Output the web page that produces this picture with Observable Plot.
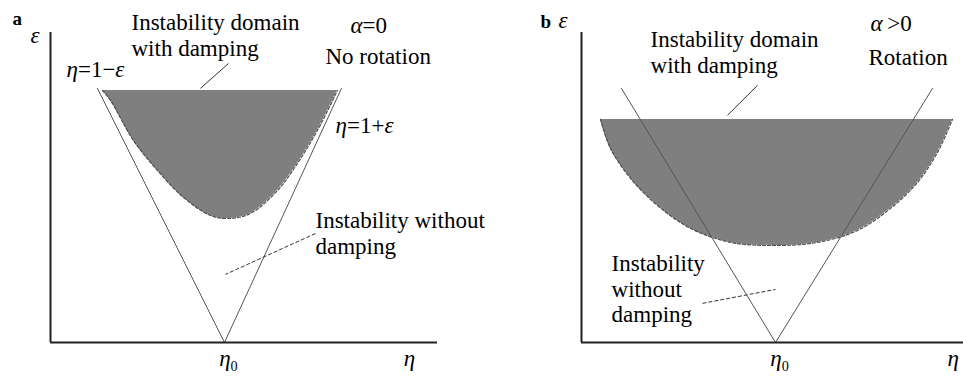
<!DOCTYPE html>
<html><head><meta charset="utf-8">
<script src="https://cdn.jsdelivr.net/npm/d3@7"></script>
<script src="https://cdn.jsdelivr.net/npm/@observablehq/plot@0.6"></script>
<style>
body{margin:0;background:#fff}
#fig{position:relative;width:963px;height:376px;overflow:hidden;background:#fff}
#fig svg{position:absolute;top:0;overflow:visible}
#fig svg text{font-family:"Liberation Serif","Times New Roman",serif !important}
</style></head><body><div id="fig"></div>
<script>
// ---------- shared ----------
const epsDomain = [0, 1.22];
const eta0 = 1;

// ---------- panel a (alpha = 0, no rotation) ----------
const aEtaDomain = [-0.426, 2.746];
const aVeeEta = [-0.041, 1, 1.959];
const aVeeEps = [1.0, 0, 1.0];
const aBowlEta = [0.0, 0.066, 0.254, 0.451, 0.664, 0.885, 1.033, 1.213, 1.434, 1.598, 1.762, 1.926];
const aBowlEps = [0.992, 0.953, 0.795, 0.677, 0.571, 0.500, 0.488, 0.508, 0.598, 0.705, 0.835, 0.992];
const aBowlTop = 0.992;
const aLeaderEta1 = [1.033, 1.746];
const aLeaderEps1 = [1.098, 0.429];
const aLeaderEta2 = [0.803, 1.008];
const aLeaderEps2 = [1.0, 0.268];
const aLeaderDash = [false, true];
const aLabelText = ["ε", "Instability domain", "with damping", "α=0", "No rotation", "η=1−ε", "η=1+ε", "Instability without", "damping", "η"];
const aLabelEta = [-0.590, 0.238, 0.238, 2.033, 1.828, -0.295, 1.910, 1.746, 1.746, 2.470];
const aLabelEps = [1.177, 1.228, 1.126, 1.220, 1.098, 1.043, 0.823, 0.449, 0.350, -0.094];

// ---------- panel b (alpha > 0, rotation) ----------
const bEtaDomain = [-0.252, 2.213];
const bVeeEta = [0.006, 1, 2.013];
const bVeeEps = [1.0, 0, 1.0];
const bBowlEta = [-0.129, -0.065, 0.065, 0.239, 0.452, 0.710, 0.987, 1.271, 1.529, 1.742, 1.916, 2.045, 2.142];
const bBowlEps = [0.878, 0.764, 0.646, 0.539, 0.449, 0.394, 0.382, 0.394, 0.441, 0.528, 0.630, 0.748, 0.878];
const bBowlTop = 0.878;
const bLeaderEta1 = [0.884, 0.529];
const bLeaderEps1 = [1.012, 0.154];
const bLeaderEta2 = [0.690, 1.0];
const bLeaderEps2 = [0.894, 0.209];
const bLeaderDash = [false, true];
const bLabelText = ["ε", "Instability domain", "with damping", "α\u2009>0", "Rotation", "Instability", "without", "damping", "η"];
const bLabelEta = [-0.400, 0.194, 0.194, 1.613, 1.600, -0.058, -0.058, -0.058, 2.110];
const bLabelEps = [1.236, 1.161, 1.059, 1.224, 1.094, 0.283, 0.181, 0.079, -0.094];

const serif = "'Liberation Serif', 'Times New Roman', serif";
const FS = 23;
const zip = (xs, ys) => xs.map((x, i) => ({eta: x, eps: ys[i]}));

function panel(o) {
  const bowl = zip(o.bowlEta, o.bowlEps);
  const vee = zip(o.veeEta, o.veeEps);
  const leaders = o.l1eta.map((e, i) => ({x1: e, y1: o.l1eps[i], x2: o.l2eta[i], y2: o.l2eps[i], dash: o.ldash[i]}));
  const labels = o.text.map((t, i) => ({t, eta: o.lEta[i], eps: o.lEps[i]}));
  return Plot.plot({
    width: o.width, height: 376,
    marginLeft: o.marginLeft, marginRight: o.marginRight, marginTop: 32, marginBottom: 34,
    x: {domain: o.etaDomain, axis: null},
    y: {domain: epsDomain, axis: null},
    style: {fontFamily: serif, fontSize: FS + "px", color: "#000", background: "transparent", overflow: "visible"},
    marks: [
      Plot.areaY(bowl, {x: "eta", y1: "eps", y2: o.bowlTop, fill: "#7f7f7f", curve: "catmull-rom"}),
      Plot.line(bowl, {x: "eta", y: "eps", stroke: "#4d4d4d", strokeWidth: 1.2, strokeDasharray: "3,2", curve: "catmull-rom"}),
      Plot.line(vee, {x: "eta", y: "eps", stroke: "#555", strokeWidth: 1}),
      Plot.ruleY([0], {x1: o.etaDomain[0], x2: o.etaDomain[1], stroke: "#222", strokeWidth: 2}),
      Plot.ruleX([o.etaDomain[0]], {y1: 0, y2: epsDomain[1], stroke: "#222", strokeWidth: 2}),
      Plot.axisX({ticks: [eta0], tickSize: 0, tickPadding: 7, tickFormat: () => "η₀", fontSize: FS, dx: 4, fill: "#000"}),
      Plot.link(leaders.filter(d => !d.dash), {x1: "x1", y1: "y1", x2: "x2", y2: "y2", stroke: "#333", strokeWidth: 1}),
      Plot.link(leaders.filter(d => d.dash), {x1: "x1", y1: "y1", x2: "x2", y2: "y2", stroke: "#333", strokeWidth: 1, strokeDasharray: "4,2"}),
      Plot.text(labels, {x: "eta", y: "eps", text: "t", textAnchor: "start", lineAnchor: "bottom", fontSize: FS, fill: "#000"}),
      Plot.text([o.tag], {x: o.tagEta, y: o.tagEps, text: d => d, textAnchor: "start", lineAnchor: "bottom", fontSize: 19, fontWeight: "bold", fill: "#000"})
    ]
  });
}

function richify(svg) {
  svg.querySelectorAll("text").forEach(t => {
    const s = t.textContent;
    if (!/[αεη₀]/.test(s)) return;
    t.textContent = "";
    const ns = "http://www.w3.org/2000/svg";
    let buf = "", italic = null;
    const flush = () => {
      if (!buf) return;
      const sp = document.createElementNS(ns, "tspan");
      if (italic) sp.setAttribute("font-style", "italic");
      sp.textContent = buf;
      t.appendChild(sp);
      buf = "";
    };
    for (const ch of s) {
      if (ch === "₀") {
        flush();
        const sp = document.createElementNS(ns, "tspan");
        sp.setAttribute("font-size", "0.62em");
        sp.setAttribute("dy", "0.35em");
        sp.textContent = "0";
        t.appendChild(sp);
        continue;
      }
      const isIt = /[αεη]/.test(ch);
      if (isIt !== italic) { flush(); italic = isIt; }
      buf += ch;
    }
    flush();
  });
}

const fig = document.getElementById("fig");
const A = panel({width: 481, marginLeft: 50, marginRight: 44, etaDomain: aEtaDomain,
  bowlEta: aBowlEta, bowlEps: aBowlEps, bowlTop: aBowlTop, veeEta: aVeeEta, veeEps: aVeeEps,
  l1eta: aLeaderEta1, l1eps: aLeaderEps1, l2eta: aLeaderEta2, l2eps: aLeaderEps2, ldash: aLeaderDash,
  text: aLabelText, lEta: aLabelEta, lEps: aLabelEps, tag: "a", tagEta: -0.738, tagEps: 1.248});
const B = panel({width: 482, marginLeft: 100, marginRight: 0, etaDomain: bEtaDomain,
  bowlEta: bBowlEta, bowlEps: bBowlEps, bowlTop: bBowlTop, veeEta: bVeeEta, veeEps: bVeeEps,
  l1eta: bLeaderEta1, l1eps: bLeaderEps1, l2eta: bLeaderEta2, l2eps: bLeaderEps2, ldash: bLeaderDash,
  text: bLabelText, lEta: bLabelEta, lEps: bLabelEps, tag: "b", tagEta: -0.516, tagEps: 1.236});
A.style.left = "0px";
B.style.left = "481px";
richify(A); richify(B);
fig.appendChild(A); fig.appendChild(B);
</script></body></html>
